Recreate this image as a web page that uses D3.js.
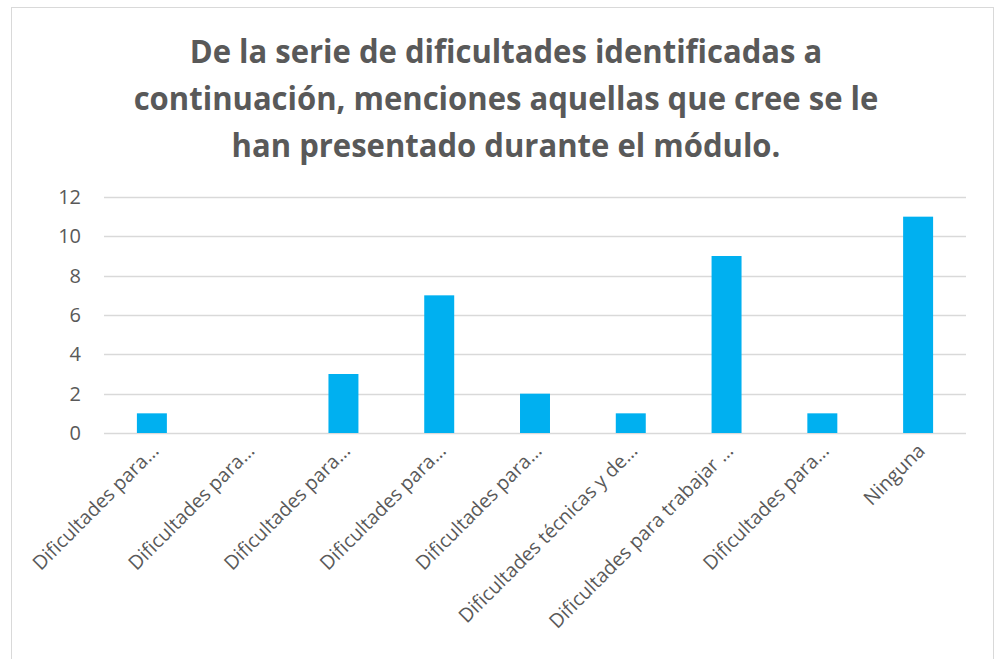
<!DOCTYPE html>
<html><head><meta charset="utf-8">
<script src="https://cdn.jsdelivr.net/npm/d3@7"></script>
<style>body{margin:0;background:#fff;} svg{display:block;}</style>
</head><body>
<svg id="c" width="995" height="659"></svg>
<script>
const categories = ["Dificultades para…","Dificultades para…","Dificultades para…","Dificultades para…","Dificultades para…","Dificultades técnicas y de…","Dificultades para trabajar …","Dificultades para…","Ninguna"];
const values = [1,0,3,7,2,1,9,1,11];
const yTicks = [0,2,4,6,8,10,12];
const titleLines = ["De la serie de dificultades identificadas a","continuación, menciones aquellas que cree se le","han presentado durante el módulo."];

const svg = d3.select("#c");
svg.append("rect").attr("x",11.5).attr("y",7.5).attr("width",982).attr("height",700)
  .attr("fill","#fff").attr("stroke","#d9d9d9").attr("stroke-width",1);

const m = {l:104, r:966, t:197, b:433};
const x = d3.scaleBand().domain(d3.range(categories.length)).range([m.l,m.r]).paddingInner(0.687).paddingOuter(0.3435);
const y = d3.scaleLinear().domain([0,12]).range([m.b,m.t]);

svg.append("g").selectAll("text").data(titleLines).join("text")
  .attr("transform",(d,i)=>`translate(506,${63+i*47}) scale(0.94,1)`).attr("text-anchor","middle")
  .attr("font-family","'Open Sans',sans-serif").attr("font-weight","bold")
  .attr("font-size",33).attr("fill","#595959").text(d=>d);

svg.append("g").selectAll("line").data(yTicks).join("line")
  .attr("x1",m.l).attr("x2",m.r).attr("y1",d=>Math.round(y(d))+0.5).attr("y2",d=>Math.round(y(d))+0.5)
  .attr("stroke","#d9d9d9").attr("stroke-width",1.3);

svg.append("g").selectAll("text").data(yTicks).join("text")
  .attr("x",81).attr("y",d=>y(d)+7).attr("text-anchor","end")
  .attr("font-family","'Open Sans',sans-serif").attr("font-size",20).attr("fill","#595959").text(d=>d);

svg.append("g").selectAll("rect").data(values).join("rect")
  .attr("x",(d,i)=>x(i)).attr("width",x.bandwidth())
  .attr("y",d=>y(d)).attr("height",d=>y(0)-y(d)).attr("fill","#00b0f0");

svg.append("g").selectAll("text").data(categories).join("text")
  .attr("transform",(d,i)=>`translate(${x(i)+x.bandwidth()/2+8},${452}) rotate(-45)`)
  .attr("text-anchor","end")
  .attr("font-family","'Open Sans',sans-serif").attr("font-size",19.5).attr("fill","#595959").text(d=>d);
</script>
</body></html>
